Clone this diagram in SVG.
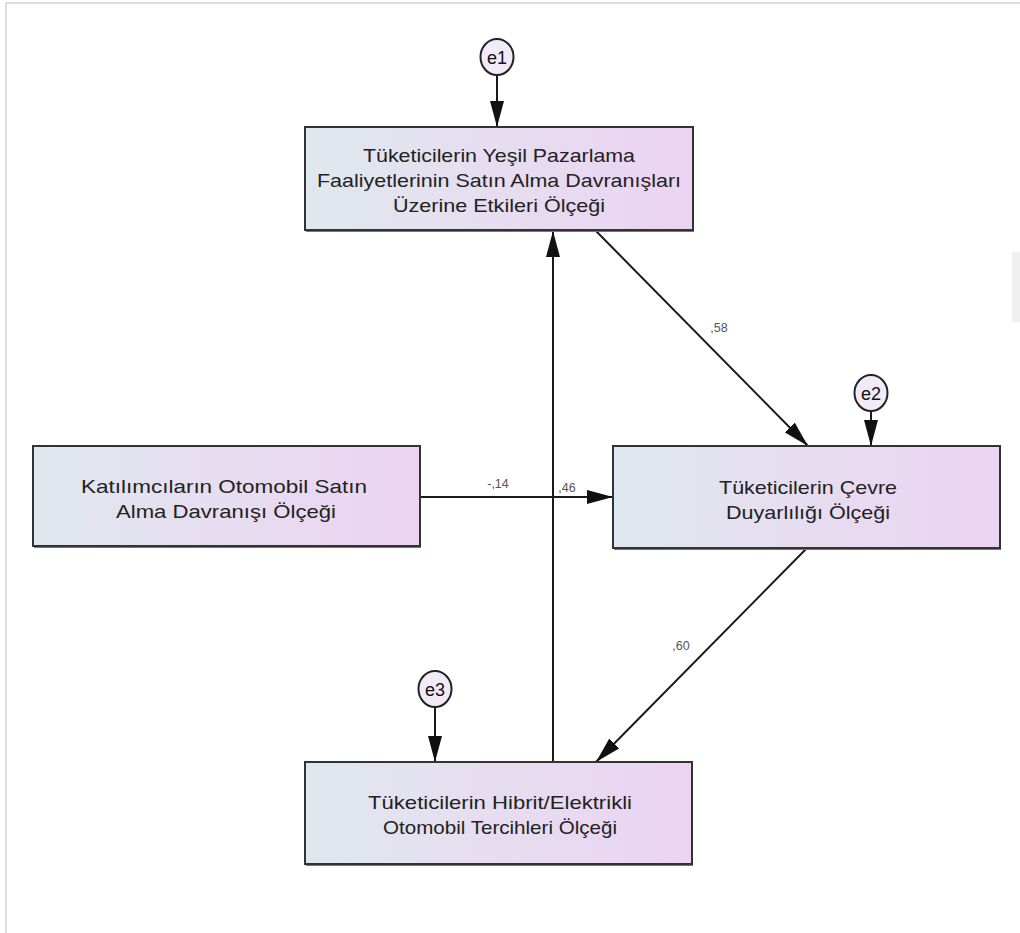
<svg xmlns="http://www.w3.org/2000/svg" width="1020" height="933" viewBox="0 0 1020 933">
  <defs>
    <linearGradient id="boxFill" x1="0" y1="0" x2="1" y2="0">
      <stop offset="0" stop-color="#dfe8ee"/>
      <stop offset="0.45" stop-color="#e6def0"/>
      <stop offset="1" stop-color="#ecd3f3"/>
    </linearGradient>
    <marker id="arrow" viewBox="0 0 26 14" refX="26" refY="7" markerWidth="26" markerHeight="14" markerUnits="userSpaceOnUse" orient="auto">
      <path d="M0,0 L26,7 L0,14 Z" fill="#111"/>
    </marker>
    <style>
      .box { fill: url(#boxFill); stroke: #333; stroke-width: 2; }
      .shadow { fill: #777; }
      .lbl { font-family: "Liberation Sans", Arial, sans-serif; font-size: 18.5px; fill: #222; text-anchor: middle; }
      .err { fill: #f2eaf8; stroke: #222; stroke-width: 2; }
      .errtxt { font-family: "Liberation Sans", Arial, sans-serif; font-size: 18px; fill: #111; text-anchor: middle; }
      .edge { stroke: #1a1a1a; stroke-width: 2; fill: none; marker-end: url(#arrow); }
      .coef { font-family: "Liberation Sans", Arial, sans-serif; font-size: 12.5px; fill: #555; text-anchor: middle; }
      .frame { stroke: #dcdcdc; stroke-width: 2; fill: none; }
    </style>
  </defs>

  <rect width="1020" height="933" fill="#ffffff"/>
  <!-- page frame -->
  <path class="frame" d="M6,933 V3 H1020"/>
  <rect x="1012" y="252" width="8" height="70" fill="#f0f0f0"/>

  <!-- connectors -->
  <g id="connectors">
    <line class="edge" x1="497" y1="75" x2="497" y2="127"/>
    <line class="edge" x1="871" y1="411" x2="871" y2="446"/>
    <line class="edge" x1="435" y1="707" x2="435" y2="762"/>
    <line class="edge" x1="596" y1="231" x2="808" y2="446"/>
    <line class="edge" x1="420" y1="497" x2="613" y2="497"/>
    <line class="edge" x1="806" y1="549" x2="596" y2="762"/>
    <line class="edge" x1="553" y1="762" x2="553" y2="231"/>
    <text class="coef" x="719" y="332">,58</text>
    <text class="coef" x="498" y="488">-,14</text>
    <text class="coef" x="567" y="492">,46</text>
    <text class="coef" x="681" y="650">,60</text>
  </g>

  <!-- error terms -->
  <g id="e1">
    <ellipse class="err" cx="497" cy="57" rx="16.5" ry="18"/>
    <text class="errtxt" x="497" y="63.5">e1</text>
  </g>
  <g id="e2">
    <ellipse class="err" cx="871" cy="393" rx="16.5" ry="18"/>
    <text class="errtxt" x="871" y="399.5">e2</text>
  </g>
  <g id="e3">
    <ellipse class="err" cx="435" cy="689" rx="16.5" ry="18"/>
    <text class="errtxt" x="435" y="695.5">e3</text>
  </g>

  <!-- observed variables -->
  <g id="yesil-pazarlama">
    <rect class="shadow" x="306" y="229" width="388" height="3"/>
    <rect class="box" x="305" y="127" width="388" height="103"/>
    <text class="lbl" x="499" y="162" textLength="272" lengthAdjust="spacingAndGlyphs">Tüketicilerin Yeşil Pazarlama</text>
    <text class="lbl" x="499" y="187" textLength="364" lengthAdjust="spacingAndGlyphs">Faaliyetlerinin Satın Alma Davranışları</text>
    <text class="lbl" x="499" y="212" textLength="212" lengthAdjust="spacingAndGlyphs">Üzerine Etkileri Ölçeği</text>
  </g>
  <g id="otomobil-satin-alma">
    <rect class="shadow" x="34" y="545" width="387" height="3"/>
    <rect class="box" x="33" y="446" width="387" height="100"/>
    <text class="lbl" x="224" y="493" textLength="286" lengthAdjust="spacingAndGlyphs">Katılımcıların Otomobil Satın</text>
    <text class="lbl" x="226" y="518" textLength="220" lengthAdjust="spacingAndGlyphs">Alma Davranışı Ölçeği</text>
  </g>
  <g id="cevre-duyarliligi">
    <rect class="shadow" x="614" y="547" width="387" height="3"/>
    <rect class="box" x="613" y="446" width="387" height="102"/>
    <text class="lbl" x="808" y="494" textLength="178" lengthAdjust="spacingAndGlyphs">Tüketicilerin Çevre</text>
    <text class="lbl" x="808" y="519" textLength="164" lengthAdjust="spacingAndGlyphs">Duyarlılığı Ölçeği</text>
  </g>
  <g id="hibrit-elektrikli">
    <rect class="shadow" x="306" y="863" width="387" height="3"/>
    <rect class="box" x="305" y="762" width="387" height="102"/>
    <text class="lbl" x="500" y="809" textLength="264" lengthAdjust="spacingAndGlyphs">Tüketicilerin Hibrit/Elektrikli</text>
    <text class="lbl" x="500" y="834" textLength="234" lengthAdjust="spacingAndGlyphs">Otomobil Tercihleri Ölçeği</text>
  </g>
</svg>
